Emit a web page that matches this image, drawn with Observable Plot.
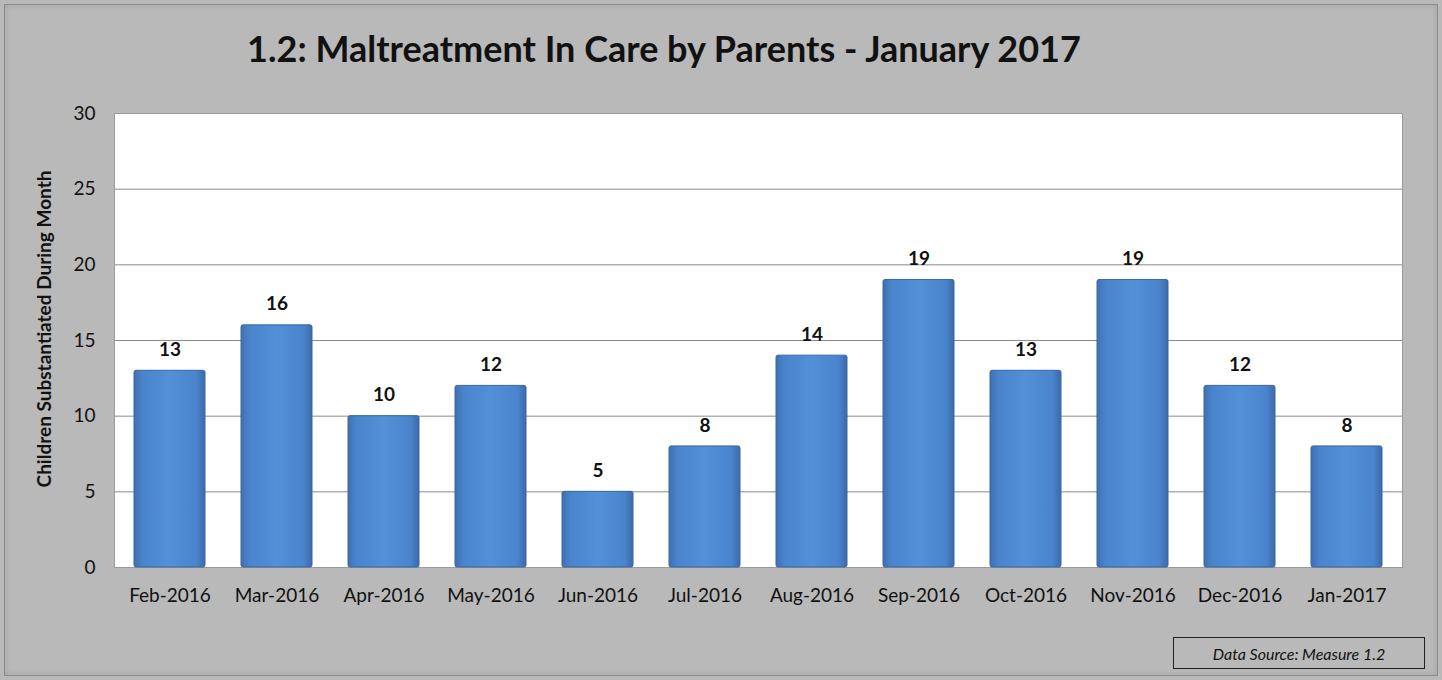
<!DOCTYPE html>
<html>
<head>
<meta charset="utf-8">
<script src="https://cdn.jsdelivr.net/npm/d3@7"></script>
<script src="https://cdn.jsdelivr.net/npm/@observablehq/plot@0.6"></script>
<style>
  html, body { margin: 0; padding: 0; background: #b9b9b9; }
  #wrap { position: relative; width: 1442px; height: 680px; background: #b9b9b9; overflow: hidden; font-family: Lato, "Open Sans", sans-serif; }
  #frame { position: absolute; left: 4px; top: 4px; right: 4px; bottom: 4px; border: 1px solid #8c8c8c; box-shadow: inset 0 0 6px rgba(0,0,0,0.12); pointer-events: none; }
  #title { position: absolute; left: 0; top: 26px; width: 1328px; text-align: center; font-weight: 700; font-size: 36px; color: #111; }
  #ylabel { position: absolute; left: 43px; top: 329px; transform: translate(-50%, -50%) rotate(-90deg); white-space: nowrap; font-weight: 700; font-size: 19px; color: #111; }
  #source { position: absolute; left: 1173px; top: 637px; width: 252px; height: 32px; border: 1.5px solid #222; box-sizing: border-box; font-style: italic; font-size: 16px; color: #111; display: flex; align-items: center; justify-content: center; }
  #chart { position: absolute; left: 0; top: 0; }
</style>
</head>
<body>
<div id="wrap">
  <div id="chart"></div>
  <div id="frame"></div>
  <div id="title">1.2: Maltreatment In Care by Parents - January 2017</div>
  <div id="ylabel">Children Substantiated During Month</div>
  <div id="source">Data Source: Measure 1.2</div>
</div>
<script>
const months = ["Feb-2016","Mar-2016","Apr-2016","May-2016","Jun-2016","Jul-2016","Aug-2016","Sep-2016","Oct-2016","Nov-2016","Dec-2016","Jan-2017"];
const counts = [13, 16, 10, 12, 5, 8, 14, 19, 13, 19, 12, 8];
const yTicks = [0, 5, 10, 15, 20, 25, 30];

const data = months.map((m, i) => ({month: m, value: counts[i]}));

const chart = Plot.plot({
  width: 1442,
  height: 680,
  marginTop: 113,
  marginBottom: 113,
  marginLeft: 114,
  marginRight: 40,
  style: {background: "transparent", fontFamily: "Lato, 'Open Sans', sans-serif", color: "#111"},
  x: {domain: months, paddingInner: 0.34, paddingOuter: 0.16, label: null},
  y: {domain: [0, 30], ticks: yTicks, label: null},
  marks: [
    Plot.frame({fill: "white", stroke: "none"}),
    Plot.ruleY(yTicks.filter(d => d > 0), {stroke: "#8a8a8a", strokeWidth: 1}),
    Plot.frame({stroke: "#9a9a9a", strokeWidth: 1}),
    Plot.barY(data, {x: "month", y: "value", fill: "url(#barGrad)", stroke: "#3c66a0", strokeWidth: 1, rx: 2}),
    Plot.text(data, {x: "month", y: "value", text: d => String(d.value), dy: -21, fontWeight: 700, fontSize: 19, fill: "#111"}),
    Plot.axisY({ticks: yTicks, tickSize: 0, tickPadding: 19, fontSize: 19, label: null}),
    Plot.axisX({tickSize: 0, tickPadding: 21, fontSize: 19, label: null})
  ]
});

const svg = d3.select(chart);
const defs = svg.insert("defs", ":first-child");
const g = defs.append("linearGradient").attr("id", "barGrad").attr("x1", "0").attr("x2", "1").attr("y1", "0").attr("y2", "0");
g.append("stop").attr("offset", "0%").attr("stop-color", "#3f70b2");
g.append("stop").attr("offset", "12%").attr("stop-color", "#4a84cc");
g.append("stop").attr("offset", "50%").attr("stop-color", "#5290d8");
g.append("stop").attr("offset", "88%").attr("stop-color", "#4a84cc");
g.append("stop").attr("offset", "100%").attr("stop-color", "#3c6aaa");

document.getElementById("chart").appendChild(chart);
</script>
</body>
</html>
